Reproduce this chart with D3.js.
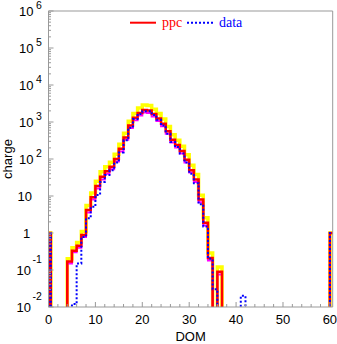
<!DOCTYPE html>
<html><head><meta charset="utf-8">
<script src="https://cdn.jsdelivr.net/npm/d3@7"></script>
<style>body{margin:0;background:#fff}svg{display:block}</style>
</head><body>
<script>
// DOM bins 0..60 (lower edges; the first bin is drawn half-width as in the reference)
const binLo = [0,0.5,2,3,4,5,6,7,8,9,10,11,12,13,14,15,16,17,18,19,20,21,22,23,24,25,26,27,28,29,30,31,32,33,34,35,36,37,38,39,40,41,42,43,44,45,46,47,48,49,50,51,52,53,54,55,56,57,58,59,60];
const binHi = [0.5,2,3,4,5,6,7,8,9,10,11,12,13,14,15,16,17,18,19,20,21,22,23,24,25,26,27,28,29,30,31,32,33,34,35,36,37,38,39,40,41,42,43,44,45,46,47,48,49,50,51,52,53,54,55,56,57,58,59,60,61];
const ppc = [1,0,0,0,0.17,0.33,0.45,0.88,4.2,9.2, 18.6,33,47,62,100,190,380,800,1300,1750, 2100,2050,1650,1250,900,560,330,240,165,95, 50,28,8,1.9,0.21,0,0.09,0,0,0, 0,0,0,0,0,0,0,0,0,0, 0,0,0,0,0,0,0,0,0,0, 1];
const ppcUp = [1,0,0,0,0.2,0.4,0.55,1.1,5.5,12, 25,45,62,82,135,250,500,1050,1700,2400, 2900,2800,2200,1700,1200,750,450,320,220,130, 68,38,10.5,2.6,0.29,0,0.12,0,0,0, 0,0,0,0,0,0,0,0,0,0, 0,0,0,0,0,0,0,0,0,0, 1];
const ppcLow = [1,0,0,0,0.15,0.3,0.4,0.78,3.6,8, 16,28,40,53,85,160,330,690,1120,1500, 1800,1750,1400,1070,770,480,280,205,140,80, 43,24,6.8,1.6,0.18,0,0.075,0,0,0, 0,0,0,0,0,0,0,0,0,0, 0,0,0,0,0,0,0,0,0,0, 1];
const data = [1,0,0,0,0,0.012,0.15,0.78,2.5,5.1, 10.6,24,37,50,80,150,320,700,1200,1650, 1950,1950,1550,1150,800,480,290,210,140,80, 40,22,6,1.5,0.2,0.03,0,0,0,0, 0,0.02,0,0,0,0,0,0,0,0, 0,0,0,0,0,0,0,0,0,0, 1];
const xTicksMajor = [0,10,20,30,40,50,60];
const yDecades = [-2,-1,0,1,2,3,4,5,6];
const legendLabels = ["ppc","data"];

const W=337,H=344;
const L=48.5,R=332.7,T=11,B=307;
const svg=d3.select("body").append("svg").attr("width",W).attr("height",H);
const x=d3.scaleLinear().domain([0,60.6]).range([L,R]);
const y=d3.scaleLog().domain([1e-2,1e6]).range([B,T]);
const yv=v=> v>0 ? y(v) : B+20;

svg.append("defs").append("clipPath").attr("id","clip").append("rect")
  .attr("x",L).attr("y",T).attr("width",R-L).attr("height",B-T);

function stepPath(vals){
  const pts=[[x(binLo[0]),B+20]];
  vals.forEach((v,i)=>{pts.push([x(binLo[i]),yv(v)]);pts.push([x(binHi[i]),yv(v)]);});
  pts.push([x(binHi[binHi.length-1]),B+20]);
  return d3.line()(pts);
}
const g=svg.append("g").attr("clip-path","url(#clip)");
g.append("path").attr("d",stepPath(ppcUp)).attr("fill","none").attr("stroke","#ffff00").attr("stroke-width",3.5);
g.append("path").attr("d",stepPath(ppcLow)).attr("fill","none").attr("stroke","#ff00ff").attr("stroke-width",2);
g.append("path").attr("d",stepPath(ppc)).attr("fill","none").attr("stroke","#ff0000").attr("stroke-width",2.5);
g.append("path").attr("d",stepPath(data)).attr("fill","none").attr("stroke","#0000ff").attr("stroke-width",2).attr("stroke-dasharray","2,2");

const axc="#999";
svg.append("path").attr("d",`M${L},${B}V${T}H${R}V${B}Z`).attr("fill","none").attr("stroke",axc).attr("stroke-width",1);
const xMinor=d3.range(0,61,2);
svg.append("g").selectAll("line").data(xMinor).join("line")
  .attr("x1",d=>x(d)).attr("x2",d=>x(d)).attr("y1",B).attr("y2",d=>B-(d%10===0?5:3))
  .attr("stroke",axc);
const fam="Liberation Sans, Arial, sans-serif";
svg.append("g").selectAll("text").data(xTicksMajor).join("text")
  .attr("x",d=>x(d)).attr("y",324).attr("text-anchor","middle")
  .attr("font-family",fam).attr("font-size",13).text(d=>d);
const yMinor=[];
yDecades.slice(0,-1).forEach(k=>{for(let m=2;m<=9;m++) yMinor.push(m*Math.pow(10,k));});
svg.append("g").selectAll("line").data(yMinor).join("line")
  .attr("x1",L).attr("x2",L+2.5).attr("y1",d=>y(d)).attr("y2",d=>y(d)).attr("stroke",axc);
svg.append("g").selectAll("line").data(yDecades).join("line")
  .attr("x1",L).attr("x2",L+5).attr("y1",d=>y(Math.pow(10,d))).attr("y2",d=>y(Math.pow(10,d))).attr("stroke",axc);
yDecades.forEach(k=>{
  const ty=y(Math.pow(10,k));
  if(k===0){
    svg.append("text").attr("x",26.5).attr("y",ty+4.6).attr("text-anchor","middle").attr("font-family",fam).attr("font-size",13).text("1");
  } else if(k===1){
    svg.append("text").attr("x",24.7).attr("y",ty+4.6).attr("text-anchor","middle").attr("font-family",fam).attr("font-size",13).text("10");
  } else {
    const neg=k<0;
    svg.append("text").attr("x",neg?31:33.5).attr("y",ty+4.6).attr("text-anchor","end").attr("font-family",fam).attr("font-size",13).text("10");
    svg.append("text").attr("x",neg?32.5:36).attr("y",ty-(neg?7:2.5)).attr("text-anchor","start").attr("font-family",fam).attr("font-size",10.5).text(k);
  }
});
svg.append("text").attr("x",(L+R)/2).attr("y",341).attr("text-anchor","middle").attr("font-family",fam).attr("font-size",13).text("DOM");
svg.append("text").attr("transform",`translate(11.5,${(T+B)/2}) rotate(-90)`).attr("text-anchor","middle").attr("font-family",fam).attr("font-size",13).text("charge");
const lg=svg.append("g");
lg.append("line").attr("x1",130).attr("x2",156).attr("y1",22.7).attr("y2",22.7).attr("stroke","#ff0000").attr("stroke-width",2);
lg.append("text").attr("x",162).attr("y",27).attr("font-family","Liberation Serif, Times New Roman, serif").attr("font-size",14).attr("fill","#ff0000").text(legendLabels[0]);
lg.append("line").attr("x1",187).attr("x2",214).attr("y1",22.7).attr("y2",22.7).attr("stroke","#0000ff").attr("stroke-width",2).attr("stroke-dasharray","2,2");
lg.append("text").attr("x",219).attr("y",27).attr("font-family","Liberation Serif, Times New Roman, serif").attr("font-size",14).attr("fill","#0000ff").text(legendLabels[1]);
</script>
</body></html>
